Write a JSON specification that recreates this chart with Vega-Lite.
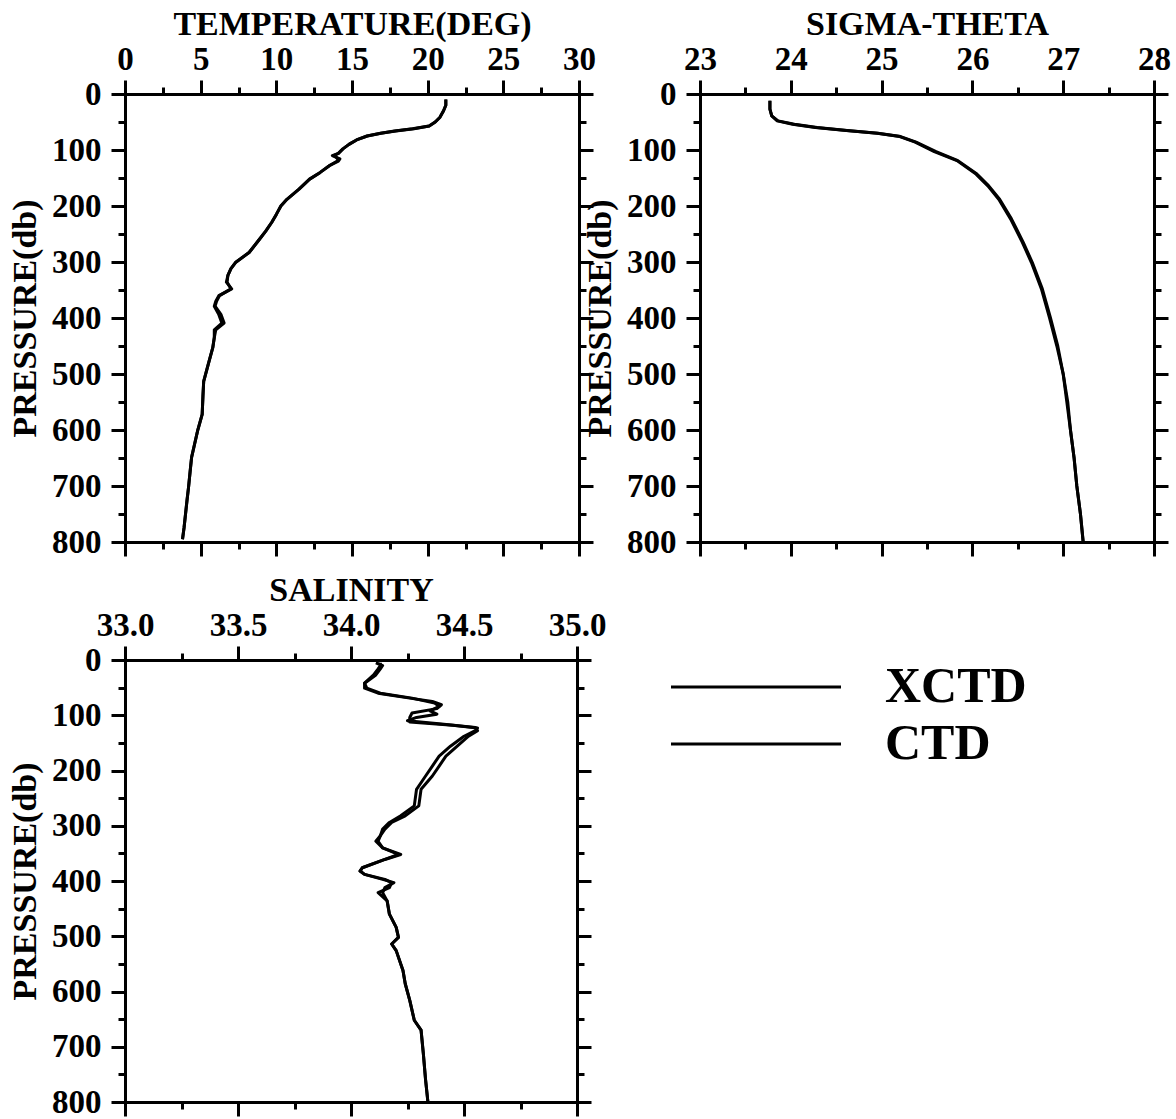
{
  "$schema": "https://vega.github.io/schema/vega-lite/v6.json",
  "background": "white",
  "padding": {"left": 8, "top": 7, "right": 5, "bottom": 0},
  "config": {
    "view": {"stroke": null},
    "font": "Liberation Serif",
    "line": {"strokeWidth": 3, "strokeJoin": "round"},
    "axis": {
      "grid": false,
      "domainColor": "black",
      "domainWidth": 3,
      "domainCap": "square",
      "tickColor": "black",
      "tickWidth": 3,
      "labelFont": "Liberation Serif",
      "labelFontWeight": "bold",
      "labelFontSize": 33,
      "labelColor": "black",
      "labelFlush": false,
      "labelOverlap": false,
      "labelPadding": 4,
      "titleFont": "Liberation Serif",
      "titleFontWeight": "bold",
      "titleFontSize": 34,
      "titleColor": "black"
    }
  },
  "datasets": {
    "temp": [
      {"inst": "XCTD", "p": 10, "v": 21.2}, {"inst": "XCTD", "p": 20, "v": 21.2}, {"inst": "XCTD", "p": 30, "v": 21.05},
      {"inst": "XCTD", "p": 42, "v": 20.8}, {"inst": "XCTD", "p": 50, "v": 20.5}, {"inst": "XCTD", "p": 57, "v": 20.1},
      {"inst": "XCTD", "p": 62, "v": 19.0}, {"inst": "XCTD", "p": 66, "v": 17.8}, {"inst": "XCTD", "p": 70, "v": 16.9},
      {"inst": "XCTD", "p": 75, "v": 16.0}, {"inst": "XCTD", "p": 82, "v": 15.3}, {"inst": "XCTD", "p": 90, "v": 14.8},
      {"inst": "XCTD", "p": 98, "v": 14.4}, {"inst": "XCTD", "p": 106, "v": 14.1}, {"inst": "XCTD", "p": 110, "v": 13.7},
      {"inst": "XCTD", "p": 116, "v": 14.2}, {"inst": "XCTD", "p": 120, "v": 14.1}, {"inst": "XCTD", "p": 128, "v": 13.5},
      {"inst": "XCTD", "p": 140, "v": 12.9}, {"inst": "XCTD", "p": 152, "v": 12.2}, {"inst": "XCTD", "p": 170, "v": 11.5},
      {"inst": "XCTD", "p": 188, "v": 10.7}, {"inst": "XCTD", "p": 200, "v": 10.3}, {"inst": "XCTD", "p": 215, "v": 10.0},
      {"inst": "XCTD", "p": 229, "v": 9.7}, {"inst": "XCTD", "p": 245, "v": 9.3}, {"inst": "XCTD", "p": 259, "v": 8.9},
      {"inst": "XCTD", "p": 283, "v": 8.2}, {"inst": "XCTD", "p": 301, "v": 7.3}, {"inst": "XCTD", "p": 312, "v": 7.0},
      {"inst": "XCTD", "p": 324, "v": 6.8}, {"inst": "XCTD", "p": 336, "v": 6.7}, {"inst": "XCTD", "p": 348, "v": 7.05},
      {"inst": "XCTD", "p": 360, "v": 6.2}, {"inst": "XCTD", "p": 370, "v": 6.0}, {"inst": "XCTD", "p": 379, "v": 5.9},
      {"inst": "XCTD", "p": 394, "v": 6.2}, {"inst": "XCTD", "p": 409, "v": 6.4}, {"inst": "XCTD", "p": 421, "v": 5.9},
      {"inst": "XCTD", "p": 435, "v": 5.9}, {"inst": "XCTD", "p": 453, "v": 5.8}, {"inst": "XCTD", "p": 483, "v": 5.5},
      {"inst": "XCTD", "p": 513, "v": 5.2}, {"inst": "XCTD", "p": 540, "v": 5.15}, {"inst": "XCTD", "p": 572, "v": 5.1},
      {"inst": "XCTD", "p": 601, "v": 4.8}, {"inst": "XCTD", "p": 625, "v": 4.6}, {"inst": "XCTD", "p": 649, "v": 4.4},
      {"inst": "XCTD", "p": 675, "v": 4.3}, {"inst": "XCTD", "p": 702, "v": 4.2}, {"inst": "XCTD", "p": 725, "v": 4.1},
      {"inst": "XCTD", "p": 750, "v": 4.0}, {"inst": "XCTD", "p": 775, "v": 3.9}, {"inst": "XCTD", "p": 795, "v": 3.8},
      {"inst": "CTD", "p": 10, "v": 21.2}, {"inst": "CTD", "p": 20, "v": 21.2}, {"inst": "CTD", "p": 30, "v": 21.05},
      {"inst": "CTD", "p": 42, "v": 20.8}, {"inst": "CTD", "p": 50, "v": 20.5}, {"inst": "CTD", "p": 57, "v": 20.1},
      {"inst": "CTD", "p": 62, "v": 19.1}, {"inst": "CTD", "p": 66, "v": 17.9}, {"inst": "CTD", "p": 70, "v": 16.9},
      {"inst": "CTD", "p": 75, "v": 16.0}, {"inst": "CTD", "p": 82, "v": 15.3}, {"inst": "CTD", "p": 90, "v": 14.8},
      {"inst": "CTD", "p": 98, "v": 14.4}, {"inst": "CTD", "p": 106, "v": 14.1}, {"inst": "CTD", "p": 110, "v": 13.8},
      {"inst": "CTD", "p": 116, "v": 14.1}, {"inst": "CTD", "p": 120, "v": 14.0}, {"inst": "CTD", "p": 128, "v": 13.5},
      {"inst": "CTD", "p": 140, "v": 12.9}, {"inst": "CTD", "p": 152, "v": 12.2}, {"inst": "CTD", "p": 170, "v": 11.5},
      {"inst": "CTD", "p": 188, "v": 10.7}, {"inst": "CTD", "p": 200, "v": 10.3}, {"inst": "CTD", "p": 215, "v": 10.0},
      {"inst": "CTD", "p": 229, "v": 9.7}, {"inst": "CTD", "p": 245, "v": 9.3}, {"inst": "CTD", "p": 259, "v": 8.9},
      {"inst": "CTD", "p": 283, "v": 8.2}, {"inst": "CTD", "p": 301, "v": 7.3}, {"inst": "CTD", "p": 312, "v": 7.0},
      {"inst": "CTD", "p": 324, "v": 6.8}, {"inst": "CTD", "p": 336, "v": 6.75}, {"inst": "CTD", "p": 348, "v": 7.0},
      {"inst": "CTD", "p": 360, "v": 6.25}, {"inst": "CTD", "p": 370, "v": 6.05}, {"inst": "CTD", "p": 379, "v": 5.95},
      {"inst": "CTD", "p": 394, "v": 6.35}, {"inst": "CTD", "p": 409, "v": 6.55}, {"inst": "CTD", "p": 421, "v": 6.0},
      {"inst": "CTD", "p": 435, "v": 5.9}, {"inst": "CTD", "p": 453, "v": 5.8}, {"inst": "CTD", "p": 483, "v": 5.5},
      {"inst": "CTD", "p": 513, "v": 5.2}, {"inst": "CTD", "p": 540, "v": 5.15}, {"inst": "CTD", "p": 572, "v": 5.1},
      {"inst": "CTD", "p": 601, "v": 4.8}, {"inst": "CTD", "p": 625, "v": 4.6}, {"inst": "CTD", "p": 649, "v": 4.4},
      {"inst": "CTD", "p": 675, "v": 4.3}, {"inst": "CTD", "p": 702, "v": 4.2}, {"inst": "CTD", "p": 725, "v": 4.1},
      {"inst": "CTD", "p": 750, "v": 4.0}, {"inst": "CTD", "p": 775, "v": 3.9}, {"inst": "CTD", "p": 795, "v": 3.8}
    ],
    "sigma": [
      {"inst": "XCTD", "p": 12, "v": 23.77}, {"inst": "XCTD", "p": 27, "v": 23.77}, {"inst": "XCTD", "p": 39, "v": 23.79},
      {"inst": "XCTD", "p": 48, "v": 23.85}, {"inst": "XCTD", "p": 54, "v": 24.02}, {"inst": "XCTD", "p": 60, "v": 24.27},
      {"inst": "XCTD", "p": 65, "v": 24.61}, {"inst": "XCTD", "p": 70, "v": 24.95}, {"inst": "XCTD", "p": 76, "v": 25.2},
      {"inst": "XCTD", "p": 86, "v": 25.37}, {"inst": "XCTD", "p": 103, "v": 25.58}, {"inst": "XCTD", "p": 119, "v": 25.83},
      {"inst": "XCTD", "p": 143, "v": 26.04}, {"inst": "XCTD", "p": 164, "v": 26.17}, {"inst": "XCTD", "p": 188, "v": 26.29},
      {"inst": "XCTD", "p": 223, "v": 26.42}, {"inst": "XCTD", "p": 265, "v": 26.55}, {"inst": "XCTD", "p": 301, "v": 26.65},
      {"inst": "XCTD", "p": 348, "v": 26.76}, {"inst": "XCTD", "p": 400, "v": 26.85}, {"inst": "XCTD", "p": 450, "v": 26.93},
      {"inst": "XCTD", "p": 500, "v": 27.0}, {"inst": "XCTD", "p": 550, "v": 27.04}, {"inst": "XCTD", "p": 600, "v": 27.08},
      {"inst": "XCTD", "p": 650, "v": 27.12}, {"inst": "XCTD", "p": 700, "v": 27.15}, {"inst": "XCTD", "p": 750, "v": 27.19},
      {"inst": "XCTD", "p": 800, "v": 27.22},
      {"inst": "CTD", "p": 12, "v": 23.77}, {"inst": "CTD", "p": 27, "v": 23.77}, {"inst": "CTD", "p": 39, "v": 23.79},
      {"inst": "CTD", "p": 48, "v": 23.86}, {"inst": "CTD", "p": 54, "v": 24.04}, {"inst": "CTD", "p": 60, "v": 24.29},
      {"inst": "CTD", "p": 65, "v": 24.62}, {"inst": "CTD", "p": 70, "v": 24.96}, {"inst": "CTD", "p": 76, "v": 25.21},
      {"inst": "CTD", "p": 86, "v": 25.38}, {"inst": "CTD", "p": 103, "v": 25.6}, {"inst": "CTD", "p": 119, "v": 25.84},
      {"inst": "CTD", "p": 143, "v": 26.05}, {"inst": "CTD", "p": 164, "v": 26.18}, {"inst": "CTD", "p": 188, "v": 26.3},
      {"inst": "CTD", "p": 223, "v": 26.43}, {"inst": "CTD", "p": 265, "v": 26.56}, {"inst": "CTD", "p": 301, "v": 26.66},
      {"inst": "CTD", "p": 348, "v": 26.77}, {"inst": "CTD", "p": 400, "v": 26.86}, {"inst": "CTD", "p": 450, "v": 26.94},
      {"inst": "CTD", "p": 500, "v": 27.0}, {"inst": "CTD", "p": 550, "v": 27.05}, {"inst": "CTD", "p": 600, "v": 27.08},
      {"inst": "CTD", "p": 650, "v": 27.12}, {"inst": "CTD", "p": 700, "v": 27.15}, {"inst": "CTD", "p": 750, "v": 27.19},
      {"inst": "CTD", "p": 800, "v": 27.22}
    ],
    "sal": [
      {"inst": "XCTD", "p": 5, "v": 34.11}, {"inst": "XCTD", "p": 10, "v": 34.14}, {"inst": "XCTD", "p": 16, "v": 34.13},
      {"inst": "XCTD", "p": 27, "v": 34.11}, {"inst": "XCTD", "p": 42, "v": 34.06}, {"inst": "XCTD", "p": 51, "v": 34.06},
      {"inst": "XCTD", "p": 60, "v": 34.12}, {"inst": "XCTD", "p": 69, "v": 34.26}, {"inst": "XCTD", "p": 75, "v": 34.36},
      {"inst": "XCTD", "p": 81, "v": 34.4}, {"inst": "XCTD", "p": 88, "v": 34.38}, {"inst": "XCTD", "p": 96, "v": 34.27},
      {"inst": "XCTD", "p": 104, "v": 34.26}, {"inst": "XCTD", "p": 112, "v": 34.26}, {"inst": "XCTD", "p": 118, "v": 34.45},
      {"inst": "XCTD", "p": 123, "v": 34.56}, {"inst": "XCTD", "p": 128, "v": 34.55}, {"inst": "XCTD", "p": 138, "v": 34.5},
      {"inst": "XCTD", "p": 156, "v": 34.44}, {"inst": "XCTD", "p": 174, "v": 34.39}, {"inst": "XCTD", "p": 192, "v": 34.36},
      {"inst": "XCTD", "p": 210, "v": 34.33}, {"inst": "XCTD", "p": 234, "v": 34.29}, {"inst": "XCTD", "p": 264, "v": 34.28},
      {"inst": "XCTD", "p": 282, "v": 34.22}, {"inst": "XCTD", "p": 294, "v": 34.17}, {"inst": "XCTD", "p": 306, "v": 34.14},
      {"inst": "XCTD", "p": 318, "v": 34.13}, {"inst": "XCTD", "p": 328, "v": 34.11}, {"inst": "XCTD", "p": 340, "v": 34.14},
      {"inst": "XCTD", "p": 352, "v": 34.22}, {"inst": "XCTD", "p": 361, "v": 34.15}, {"inst": "XCTD", "p": 376, "v": 34.05},
      {"inst": "XCTD", "p": 382, "v": 34.04}, {"inst": "XCTD", "p": 388, "v": 34.06}, {"inst": "XCTD", "p": 397, "v": 34.15},
      {"inst": "XCTD", "p": 403, "v": 34.18}, {"inst": "XCTD", "p": 412, "v": 34.17}, {"inst": "XCTD", "p": 421, "v": 34.12},
      {"inst": "XCTD", "p": 436, "v": 34.16}, {"inst": "XCTD", "p": 460, "v": 34.17}, {"inst": "XCTD", "p": 484, "v": 34.2},
      {"inst": "XCTD", "p": 502, "v": 34.21}, {"inst": "XCTD", "p": 514, "v": 34.18}, {"inst": "XCTD", "p": 526, "v": 34.2},
      {"inst": "XCTD", "p": 562, "v": 34.23}, {"inst": "XCTD", "p": 586, "v": 34.24}, {"inst": "XCTD", "p": 616, "v": 34.26},
      {"inst": "XCTD", "p": 652, "v": 34.28}, {"inst": "XCTD", "p": 670, "v": 34.31}, {"inst": "XCTD", "p": 712, "v": 34.32},
      {"inst": "XCTD", "p": 760, "v": 34.33}, {"inst": "XCTD", "p": 799, "v": 34.34},
      {"inst": "CTD", "p": 5, "v": 34.13}, {"inst": "CTD", "p": 10, "v": 34.13}, {"inst": "CTD", "p": 16, "v": 34.12},
      {"inst": "CTD", "p": 27, "v": 34.1}, {"inst": "CTD", "p": 42, "v": 34.06}, {"inst": "CTD", "p": 51, "v": 34.07},
      {"inst": "CTD", "p": 60, "v": 34.13}, {"inst": "CTD", "p": 69, "v": 34.27}, {"inst": "CTD", "p": 78, "v": 34.37},
      {"inst": "CTD", "p": 84, "v": 34.39}, {"inst": "CTD", "p": 92, "v": 34.35}, {"inst": "CTD", "p": 98, "v": 34.38},
      {"inst": "CTD", "p": 104, "v": 34.29}, {"inst": "CTD", "p": 110, "v": 34.25}, {"inst": "CTD", "p": 116, "v": 34.4},
      {"inst": "CTD", "p": 122, "v": 34.55}, {"inst": "CTD", "p": 128, "v": 34.56}, {"inst": "CTD", "p": 138, "v": 34.52},
      {"inst": "CTD", "p": 156, "v": 34.47}, {"inst": "CTD", "p": 174, "v": 34.42}, {"inst": "CTD", "p": 192, "v": 34.39},
      {"inst": "CTD", "p": 210, "v": 34.36}, {"inst": "CTD", "p": 234, "v": 34.31}, {"inst": "CTD", "p": 264, "v": 34.3},
      {"inst": "CTD", "p": 282, "v": 34.24}, {"inst": "CTD", "p": 294, "v": 34.18}, {"inst": "CTD", "p": 306, "v": 34.15},
      {"inst": "CTD", "p": 318, "v": 34.13}, {"inst": "CTD", "p": 328, "v": 34.12}, {"inst": "CTD", "p": 340, "v": 34.14},
      {"inst": "CTD", "p": 352, "v": 34.21}, {"inst": "CTD", "p": 361, "v": 34.15}, {"inst": "CTD", "p": 376, "v": 34.05},
      {"inst": "CTD", "p": 382, "v": 34.04}, {"inst": "CTD", "p": 388, "v": 34.06}, {"inst": "CTD", "p": 397, "v": 34.14},
      {"inst": "CTD", "p": 403, "v": 34.19}, {"inst": "CTD", "p": 412, "v": 34.15}, {"inst": "CTD", "p": 421, "v": 34.14},
      {"inst": "CTD", "p": 436, "v": 34.16}, {"inst": "CTD", "p": 460, "v": 34.17}, {"inst": "CTD", "p": 484, "v": 34.2},
      {"inst": "CTD", "p": 502, "v": 34.21}, {"inst": "CTD", "p": 514, "v": 34.18}, {"inst": "CTD", "p": 526, "v": 34.2},
      {"inst": "CTD", "p": 562, "v": 34.23}, {"inst": "CTD", "p": 586, "v": 34.24}, {"inst": "CTD", "p": 616, "v": 34.26},
      {"inst": "CTD", "p": 652, "v": 34.28}, {"inst": "CTD", "p": 670, "v": 34.31}, {"inst": "CTD", "p": 712, "v": 34.32},
      {"inst": "CTD", "p": 760, "v": 34.33}, {"inst": "CTD", "p": 799, "v": 34.34}
    ]
  },
  "columns": 2,
  "bounds": "flush",
  "spacing": {"row": 118, "column": 121},
  "concat": [
    {
      "width": 454, "height": 448,
      "data": {"name": "temp"},
      "encoding": {
        "y": {"field": "p", "type": "quantitative", "scale": {"domain": [0, 800], "reverse": true, "nice": false, "zero": false}},
        "order": {"field": "p", "type": "quantitative"},
        "color": {"field": "inst", "type": "nominal", "scale": {"domain": ["XCTD", "CTD"], "range": ["black", "black"]},
          "legend": {"orient": "none", "legendX": 606, "legendY": 568, "title": null, "symbolType": "M-5,0H5", "symbolSize": 1156, "symbolStrokeWidth": 3, "labelFontSize": 50, "labelFont": "Liberation Serif", "labelFontWeight": "bold", "labelColor": "black", "labelOffset": 104, "labelLimit": 0, "rowPadding": 7}}
      },
      "layer": [
        {
          "transform": [{"filter": "datum.inst === 'XCTD'"}],
          "mark": "line",
          "encoding": {
            "x": {"field": "v", "type": "quantitative", "scale": {"domain": [0, 30], "nice": false, "zero": false},
              "axis": {"orient": "top", "title": "TEMPERATURE(DEG)", "titlePadding": 2, "values": [0, 2.5, 5, 7.5, 10, 12.5, 15, 17.5, 20, 22.5, 25, 27.5, 30],
                "tickSize": {"condition": {"test": "datum.value % 5 === 0", "value": 14}, "value": 7},
                "labelExpr": "datum.value % 5 === 0 ? format(datum.value, 'd') : ''"}},
            "y": {"field": "p", "type": "quantitative",
              "axis": {"orient": "left", "title": "PRESSURE(db)", "titlePadding": 9, "labelPadding": 10, "values": [0, 50, 100, 150, 200, 250, 300, 350, 400, 450, 500, 550, 600, 650, 700, 750, 800],
                "tickSize": {"condition": {"test": "datum.value % 100 === 0", "value": 14}, "value": 7},
                "labelExpr": "datum.value % 100 === 0 ? datum.label : ''"}}
          }
        },
        {
          "transform": [{"filter": "datum.inst === 'CTD'"}],
          "mark": "line",
          "encoding": {
            "x": {"field": "v", "type": "quantitative",
              "axis": {"orient": "bottom", "title": null, "labels": false, "values": [0, 2.5, 5, 7.5, 10, 12.5, 15, 17.5, 20, 22.5, 25, 27.5, 30],
                "tickSize": {"condition": {"test": "datum.value % 5 === 0", "value": 14}, "value": 7}}},
            "y": {"field": "p", "type": "quantitative",
              "axis": {"orient": "right", "title": null, "labels": false, "values": [0, 50, 100, 150, 200, 250, 300, 350, 400, 450, 500, 550, 600, 650, 700, 750, 800],
                "tickSize": {"condition": {"test": "datum.value % 100 === 0", "value": 14}, "value": 7}}}
          }
        }
      ],
      "resolve": {"axis": {"x": "independent", "y": "independent"}}
    },
    {
      "width": 454, "height": 448,
      "data": {"name": "sigma"},
      "encoding": {
        "y": {"field": "p", "type": "quantitative", "scale": {"domain": [0, 800], "reverse": true, "nice": false, "zero": false}},
        "order": {"field": "p", "type": "quantitative"},
        "color": {"field": "inst", "type": "nominal", "scale": {"domain": ["XCTD", "CTD"], "range": ["black", "black"]}}
      },
      "layer": [
        {
          "transform": [{"filter": "datum.inst === 'XCTD'"}],
          "mark": "line",
          "encoding": {
            "x": {"field": "v", "type": "quantitative", "scale": {"domain": [23, 28], "nice": false, "zero": false},
              "axis": {"orient": "top", "title": "SIGMA-THETA", "titlePadding": 2, "values": [23, 23.5, 24, 24.5, 25, 25.5, 26, 26.5, 27, 27.5, 28],
                "tickSize": {"condition": {"test": "datum.value % 1 === 0", "value": 14}, "value": 7},
                "labelExpr": "datum.value % 1 === 0 ? format(datum.value, 'd') : ''"}},
            "y": {"field": "p", "type": "quantitative",
              "axis": {"orient": "left", "title": "PRESSURE(db)", "titlePadding": 9, "labelPadding": 10, "values": [0, 50, 100, 150, 200, 250, 300, 350, 400, 450, 500, 550, 600, 650, 700, 750, 800],
                "tickSize": {"condition": {"test": "datum.value % 100 === 0", "value": 14}, "value": 7},
                "labelExpr": "datum.value % 100 === 0 ? datum.label : ''"}}
          }
        },
        {
          "transform": [{"filter": "datum.inst === 'CTD'"}],
          "mark": "line",
          "encoding": {
            "x": {"field": "v", "type": "quantitative",
              "axis": {"orient": "bottom", "title": null, "labels": false, "values": [23, 23.5, 24, 24.5, 25, 25.5, 26, 26.5, 27, 27.5, 28],
                "tickSize": {"condition": {"test": "datum.value % 1 === 0", "value": 14}, "value": 7}}},
            "y": {"field": "p", "type": "quantitative",
              "axis": {"orient": "right", "title": null, "labels": false, "values": [0, 50, 100, 150, 200, 250, 300, 350, 400, 450, 500, 550, 600, 650, 700, 750, 800],
                "tickSize": {"condition": {"test": "datum.value % 100 === 0", "value": 14}, "value": 7}}}
          }
        }
      ],
      "resolve": {"axis": {"x": "independent", "y": "independent"}}
    },
    {
      "width": 452, "height": 442,
      "data": {"name": "sal"},
      "encoding": {
        "y": {"field": "p", "type": "quantitative", "scale": {"domain": [0, 800], "reverse": true, "nice": false, "zero": false}},
        "order": {"field": "p", "type": "quantitative"},
        "color": {"field": "inst", "type": "nominal", "scale": {"domain": ["XCTD", "CTD"], "range": ["black", "black"]}}
      },
      "layer": [
        {
          "transform": [{"filter": "datum.inst === 'XCTD'"}],
          "mark": "line",
          "encoding": {
            "x": {"field": "v", "type": "quantitative", "scale": {"domain": [33, 35], "nice": false, "zero": false},
              "axis": {"orient": "top", "title": "SALINITY", "titlePadding": 2, "values": [33, 33.25, 33.5, 33.75, 34, 34.25, 34.5, 34.75, 35],
                "tickSize": {"condition": {"test": "datum.value % 0.5 === 0", "value": 14}, "value": 7},
                "labelExpr": "datum.value % 0.5 === 0 ? format(datum.value, '.1f') : ''"}},
            "y": {"field": "p", "type": "quantitative",
              "axis": {"orient": "left", "title": "PRESSURE(db)", "titlePadding": 9, "labelPadding": 10, "values": [0, 50, 100, 150, 200, 250, 300, 350, 400, 450, 500, 550, 600, 650, 700, 750, 800],
                "tickSize": {"condition": {"test": "datum.value % 100 === 0", "value": 14}, "value": 7},
                "labelExpr": "datum.value % 100 === 0 ? datum.label : ''"}}
          }
        },
        {
          "transform": [{"filter": "datum.inst === 'CTD'"}],
          "mark": "line",
          "encoding": {
            "x": {"field": "v", "type": "quantitative",
              "axis": {"orient": "bottom", "title": null, "labels": false, "values": [33, 33.25, 33.5, 33.75, 34, 34.25, 34.5, 34.75, 35],
                "tickSize": {"condition": {"test": "datum.value % 0.5 === 0", "value": 14}, "value": 7}}},
            "y": {"field": "p", "type": "quantitative",
              "axis": {"orient": "right", "title": null, "labels": false, "values": [0, 50, 100, 150, 200, 250, 300, 350, 400, 450, 500, 550, 600, 650, 700, 750, 800],
                "tickSize": {"condition": {"test": "datum.value % 100 === 0", "value": 14}, "value": 7}}}
          }
        }
      ],
      "resolve": {"axis": {"x": "independent", "y": "independent"}}
    }
  ]
}
